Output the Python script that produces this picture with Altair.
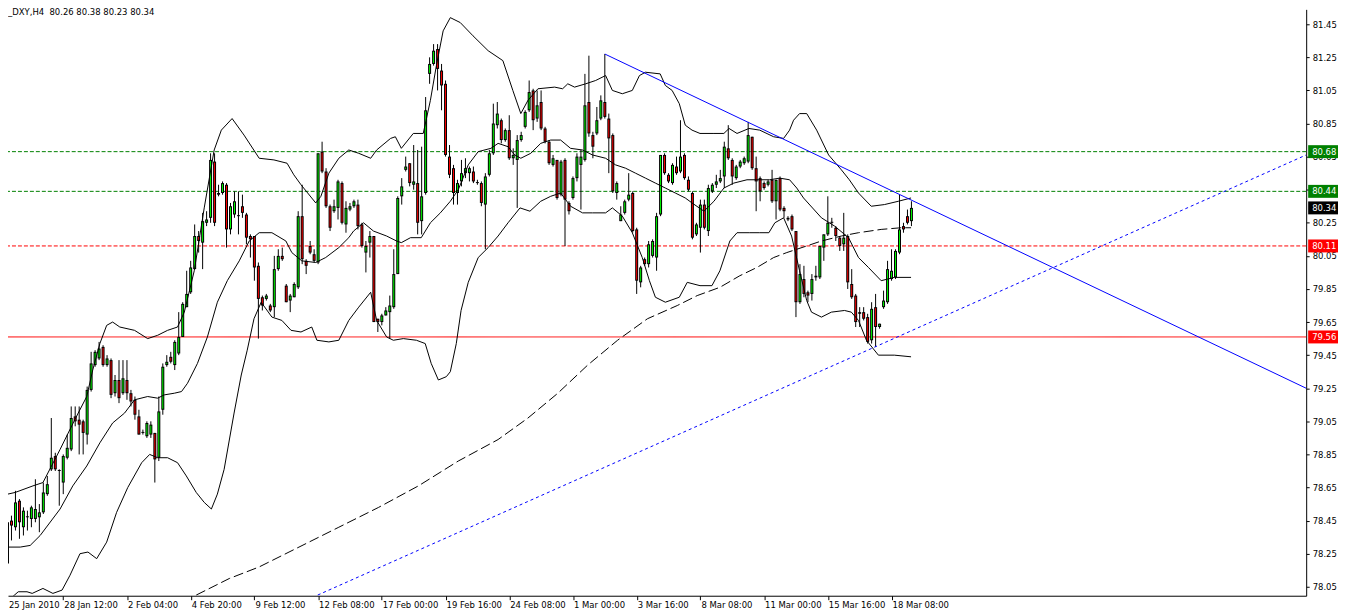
import altair as alt
import pandas as pd
import numpy as np

# ---------------- data ----------------
title_text = "_DXY,H4\u00a0 80.26 80.38 80.23 80.34"

# H4 candles, bar index 1..229 (bar 0 = 25 Jan 2010 20:00)
opens = [
    78.08, 78.19, 78.45, 78.41, 78.57, 78.41, 78.47, 78.46, 78.46, 78.47,
    78.50, 78.61, 78.76, 78.84, 78.75, 78.68, 78.83, 78.88, 79.08, 79.06,
    79.05, 78.97, 79.24, 79.39, 79.43, 79.50, 79.39, 79.42, 79.22, 79.30,
    79.22, 79.30, 79.22, 79.18, 79.08, 78.98, 78.96, 78.97, 78.98, 78.83,
    79.12, 79.39, 79.44, 79.39, 79.46, 79.56, 79.74, 79.83, 79.97, 80.17,
    80.13, 80.25, 80.28, 80.62, 80.43, 80.43, 80.48, 80.21, 80.30, 80.29,
    80.35, 80.30, 80.17, 80.17, 79.99, 79.80, 79.79, 79.75, 79.74, 79.97,
    80.05, 79.87, 79.78, 79.80, 79.86, 80.29, 80.02, 80.11, 80.06, 80.01,
    80.68, 80.56, 80.35, 80.32, 80.34, 80.49, 80.24, 80.33, 80.35, 80.36,
    80.24, 80.07, 80.13, 80.17, 79.67, 79.65, 79.69, 79.71, 79.74, 79.94,
    80.41, 80.57, 80.61, 80.48, 80.49, 80.26, 80.43, 81.15, 81.21, 81.30,
    81.17, 81.09, 80.65, 80.58, 80.43, 80.50, 80.55, 80.55, 80.56, 80.49,
    80.49, 80.36, 80.54, 80.67, 80.84, 80.87, 80.75, 80.81, 80.64, 80.63,
    80.75, 80.83, 80.93, 81.05, 80.88, 80.98, 80.82, 80.74, 80.60, 80.63,
    80.42, 80.63, 80.37, 80.40, 80.52, 80.60, 80.63, 80.98, 80.78, 80.79,
    80.88, 80.98, 80.88, 80.78, 80.43, 80.26, 80.31, 80.39, 80.43, 80.21,
    79.89, 80.03, 80.00, 80.05, 80.04, 80.30, 80.66, 80.54, 80.49, 80.59,
    80.56, 80.66, 80.51, 80.43, 80.18, 80.22, 80.36, 80.20, 80.44, 80.48,
    80.50, 80.53, 80.70, 80.63, 80.52, 80.59, 80.61, 80.62, 80.77, 80.58,
    80.52, 80.49, 80.48, 80.51, 80.38, 80.52, 80.34, 80.28, 80.29, 80.20,
    79.77, 79.91, 79.83, 79.82, 79.92, 79.92, 80.10, 80.18, 80.25, 80.22,
    80.16, 80.12, 80.17, 79.88, 79.81, 79.71, 79.71, 79.68, 79.54, 79.74,
    79.62, 79.74, 79.77, 79.91, 79.92, 80.07, 80.23, 80.29, 80.26,
]
highs = [
    78.21, 78.48, 78.48, 78.63, 78.58, 78.53, 78.51, 78.54, 78.70, 78.55,
    78.68, 78.72, 79.07, 78.86, 78.76, 78.85, 78.97, 79.14, 79.14, 79.14,
    79.06, 79.26, 79.47, 79.48, 79.53, 79.51, 79.45, 79.43, 79.33, 79.42,
    79.42, 79.42, 79.24, 79.20, 79.12, 79.00, 79.05, 79.05, 78.98, 79.20,
    79.40, 79.45, 79.47, 79.54, 79.71, 79.77, 79.96, 80.02, 80.24, 80.20,
    80.31, 80.32, 80.67, 80.67, 80.48, 80.50, 80.49, 80.37, 80.44, 80.44,
    80.42, 80.31, 80.18, 80.17, 80.01, 79.81, 79.82, 79.76, 80.05, 80.09,
    80.10, 79.88, 79.82, 79.89, 80.32, 80.48, 80.03, 80.14, 80.09, 80.67,
    80.74, 80.58, 80.36, 80.39, 80.51, 80.50, 80.38, 80.37, 80.39, 80.39,
    80.25, 80.14, 80.20, 80.17, 79.67, 79.70, 79.74, 79.81, 80.09, 80.41,
    80.52, 80.65, 80.61, 80.72, 80.69, 80.71, 81.01, 81.25, 81.33, 81.33,
    81.21, 81.11, 80.72, 80.60, 80.51, 80.63, 80.64, 80.59, 80.59, 80.51,
    80.50, 80.55, 80.69, 80.97, 80.98, 80.88, 80.82, 80.90, 80.70, 80.78,
    80.80, 80.93, 81.11, 81.06, 81.05, 81.05, 80.83, 80.75, 80.66, 80.63,
    80.63, 80.64, 80.38, 80.53, 80.67, 80.69, 81.15, 81.26, 80.80, 80.95,
    81.02, 81.27, 80.91, 80.79, 80.50, 80.35, 80.39, 80.55, 80.44, 80.22,
    79.99, 80.04, 80.14, 80.15, 80.31, 80.66, 80.67, 80.55, 80.61, 80.65,
    80.87, 80.67, 80.53, 80.44, 80.25, 80.39, 80.39, 80.48, 80.49, 80.54,
    80.57, 80.74, 80.84, 80.64, 80.60, 80.63, 80.65, 80.86, 80.77, 80.65,
    80.53, 80.50, 80.51, 80.57, 80.51, 80.53, 80.35, 80.29, 80.30, 80.20,
    80.00, 79.99, 79.84, 79.94, 79.99, 80.11, 80.18, 80.41, 80.28, 80.23,
    80.17, 80.31, 80.18, 79.97, 79.82, 79.74, 79.74, 79.70, 79.77, 79.82,
    79.64, 79.84, 80.02, 80.09, 80.09, 80.42, 80.25, 80.33, 80.38,
]
lows = [
    78.05, 78.18, 78.33, 78.39, 78.34, 78.36, 78.39, 78.41, 78.44, 78.38,
    78.49, 78.60, 78.75, 78.75, 78.54, 78.61, 78.82, 78.87, 79.02, 78.85,
    78.85, 78.91, 79.23, 79.38, 79.42, 79.38, 79.38, 79.19, 79.20, 79.16,
    79.21, 79.18, 79.14, 79.06, 78.97, 78.97, 78.95, 78.95, 78.68, 78.81,
    79.09, 79.38, 79.40, 79.36, 79.45, 79.56, 79.74, 79.82, 79.97, 80.07,
    79.97, 80.23, 80.25, 80.23, 80.41, 80.42, 80.10, 80.18, 80.28, 80.18,
    80.28, 80.12, 80.04, 79.90, 79.55, 79.72, 79.78, 79.71, 79.68, 79.96,
    80.02, 79.77, 79.71, 79.80, 79.85, 80.00, 79.94, 80.06, 80.01, 80.00,
    80.55, 80.34, 80.20, 80.31, 80.27, 80.24, 80.19, 80.32, 80.34, 80.21,
    80.10, 79.95, 80.04, 79.65, 79.59, 79.63, 79.69, 79.55, 79.73, 79.94,
    80.36, 80.56, 80.47, 80.45, 80.18, 80.18, 80.42, 81.09, 81.20, 81.05,
    80.93, 80.65, 80.52, 80.36, 80.36, 80.47, 80.52, 80.50, 80.49, 80.48,
    80.35, 80.09, 80.53, 80.66, 80.82, 80.73, 80.74, 80.63, 80.60, 80.34,
    80.74, 80.82, 80.92, 80.81, 80.86, 80.81, 80.73, 80.60, 80.59, 80.39,
    80.41, 80.11, 80.30, 80.39, 80.50, 80.33, 80.62, 80.77, 80.64, 80.78,
    80.87, 80.88, 80.55, 80.43, 80.39, 80.26, 80.30, 80.38, 80.19, 79.82,
    79.86, 79.99, 79.98, 80.04, 79.96, 80.29, 80.54, 80.49, 80.48, 80.54,
    80.55, 80.51, 80.44, 80.15, 80.17, 80.07, 80.21, 80.17, 80.43, 80.46,
    80.49, 80.46, 80.63, 80.48, 80.51, 80.58, 80.60, 80.61, 80.57, 80.32,
    80.38, 80.45, 80.47, 80.37, 80.27, 80.32, 80.28, 80.26, 80.20, 79.68,
    79.76, 79.80, 79.77, 79.78, 79.90, 79.91, 80.02, 80.17, 80.22, 80.14,
    80.08, 80.08, 79.85, 79.79, 79.62, 79.62, 79.66, 79.52, 79.52, 79.50,
    79.61, 79.73, 79.76, 79.90, 79.91, 80.06, 80.19, 80.24, 80.23,
]
closes = [
    78.18, 78.44, 78.42, 78.56, 78.44, 78.51, 78.47, 78.53, 78.52, 78.50,
    78.62, 78.67, 78.83, 78.76, 78.75, 78.84, 78.89, 79.07, 79.05, 79.03,
    78.98, 79.24, 79.40, 79.47, 79.49, 79.39, 79.43, 79.21, 79.30, 79.19,
    79.31, 79.22, 79.17, 79.09, 78.97, 78.98, 79.04, 79.03, 78.82, 79.11,
    79.38, 79.41, 79.41, 79.53, 79.56, 79.76, 79.82, 79.98, 80.17, 80.14,
    80.26, 80.27, 80.63, 80.25, 80.42, 80.49, 80.21, 80.35, 80.38, 80.29,
    80.31, 80.16, 80.15, 79.98, 79.79, 79.75, 79.81, 79.72, 79.97, 80.05,
    80.03, 79.77, 79.81, 79.88, 80.29, 80.03, 79.99, 80.07, 80.02, 80.67,
    80.56, 80.35, 80.22, 80.35, 80.50, 80.25, 80.34, 80.35, 80.38, 80.23,
    80.11, 80.11, 80.17, 79.65, 79.65, 79.69, 79.72, 79.75, 79.94, 80.40,
    80.47, 80.59, 80.49, 80.50, 80.25, 80.41, 80.93, 81.21, 81.29, 81.18,
    81.08, 80.66, 80.54, 80.43, 80.49, 80.55, 80.58, 80.58, 80.50, 80.49,
    80.37, 80.53, 80.67, 80.85, 80.91, 80.75, 80.81, 80.64, 80.66, 80.75,
    80.78, 80.92, 81.04, 80.87, 80.96, 80.82, 80.74, 80.61, 80.64, 80.40,
    80.62, 80.39, 80.32, 80.52, 80.65, 80.65, 80.96, 80.79, 80.71, 80.87,
    80.99, 80.89, 80.76, 80.44, 80.49, 80.30, 80.38, 80.42, 80.20, 79.90,
    79.98, 80.00, 80.12, 80.14, 80.29, 80.66, 80.55, 80.50, 80.60, 80.55,
    80.65, 80.52, 80.45, 80.16, 80.24, 80.36, 80.22, 80.46, 80.48, 80.50,
    80.52, 80.71, 80.64, 80.53, 80.59, 80.62, 80.64, 80.78, 80.58, 80.50,
    80.44, 80.46, 80.50, 80.38, 80.51, 80.33, 80.32, 80.27, 80.21, 79.77,
    79.94, 79.82, 79.81, 79.91, 79.93, 80.11, 80.18, 80.25, 80.25, 80.17,
    80.11, 80.16, 79.89, 79.80, 79.65, 79.70, 79.67, 79.53, 79.73, 79.62,
    79.64, 79.78, 79.97, 79.96, 80.08, 80.21, 80.21, 80.25, 80.34,
]
assert len(opens) == len(highs) == len(lows) == len(closes) == 229

# Bollinger bands (bar index, price)
upper_band = [
    (0.2, 78.60), (3.9, 78.62), (8.4, 78.66), (10.9, 78.68), (15.2, 78.88), (18.9, 79.06),
    (21.9, 79.20), (23.4, 79.36), (25.2, 79.52), (26.9, 79.63), (28.4, 79.65), (30.2, 79.62),
    (33.9, 79.60), (37.2, 79.55), (39.7, 79.57), (42.2, 79.60), (44.7, 79.62), (46.4, 79.71),
    (48.9, 79.96), (51.4, 80.34), (53.9, 80.69), (55.7, 80.81), (58.4, 80.88), (61.4, 80.78),
    (65.2, 80.64), (68.9, 80.63), (72.2, 80.61), (73.9, 80.54), (75.7, 80.48), (79.4, 80.37),
    (80.7, 80.41), (82.7, 80.55), (85.2, 80.64), (87.7, 80.69), (90.2, 80.67), (93.2, 80.64),
    (94.7, 80.69), (98.2, 80.76), (99.4, 80.77), (100.9, 80.70), (103.9, 80.79), (106.4, 80.79),
    (108.2, 80.99), (109.7, 81.20), (111.4, 81.41), (113.2, 81.49), (115.7, 81.46), (118.9, 81.38),
    (122.7, 81.29), (126.4, 81.23), (128.9, 81.05), (130.9, 80.91), (132.7, 80.99), (135.2, 81.06),
    (139.4, 81.07), (141.4, 81.06), (142.7, 81.09), (144.4, 81.07), (147.2, 81.09), (149.7, 81.11),
    (152.2, 81.14), (153.9, 81.05), (156.4, 81.03), (158.9, 81.05), (160.7, 81.14), (162.2, 81.16),
    (165.9, 81.15), (167.2, 81.08), (168.9, 81.05), (170.7, 80.97), (172.2, 80.84), (173.9, 80.81),
    (175.9, 80.79), (179.4, 80.79), (181.9, 80.79), (183.2, 80.82), (185.2, 80.79), (188.2, 80.82),
    (190.9, 80.81), (194.4, 80.77), (196.9, 80.76), (198.4, 80.81), (199.4, 80.87), (200.9, 80.91),
    (202.7, 80.91), (205.2, 80.81), (208.2, 80.66), (211.4, 80.57), (213.4, 80.51), (215.7, 80.43),
    (218.9, 80.35), (222.2, 80.36), (225.7, 80.38), (228.9, 80.40),
]
middle_band = [
    (0.2, 78.29), (5.2, 78.29), (7.7, 78.30), (10.2, 78.36), (15.2, 78.52), (18.4, 78.66),
    (21.9, 78.78), (25.2, 78.92), (28.4, 79.04), (31.4, 79.10), (33.9, 79.18), (37.2, 79.20),
    (39.7, 79.19), (41.4, 79.21), (43.9, 79.22), (45.7, 79.23), (47.2, 79.28), (49.7, 79.40),
    (52.2, 79.56), (54.7, 79.77), (57.2, 79.90), (60.2, 80.02), (62.7, 80.14), (65.2, 80.19),
    (68.4, 80.19), (71.9, 80.14), (73.4, 80.07), (75.9, 80.02), (79.4, 80.01), (81.9, 80.04),
    (85.2, 80.10), (87.7, 80.16), (88.9, 80.20), (91.4, 80.25), (93.9, 80.20), (97.2, 80.17),
    (99.7, 80.14), (100.9, 80.13), (103.2, 80.16), (105.9, 80.16), (108.2, 80.25), (110.7, 80.31),
    (113.2, 80.38), (115.2, 80.45), (117.7, 80.60), (120.2, 80.68), (123.4, 80.70), (125.2, 80.73),
    (127.7, 80.71), (129.4, 80.66), (130.9, 80.64), (133.4, 80.67), (135.9, 80.73), (138.4, 80.75),
    (140.9, 80.75), (143.4, 80.70), (146.4, 80.69), (148.9, 80.66), (152.2, 80.64), (154.7, 80.60),
    (157.2, 80.58), (159.7, 80.55), (162.2, 80.52), (164.7, 80.49), (167.2, 80.46), (169.7, 80.43),
    (172.2, 80.40), (173.9, 80.37), (176.9, 80.32), (179.4, 80.38), (181.9, 80.46), (184.4, 80.49),
    (187.7, 80.51), (190.7, 80.51), (193.4, 80.51), (195.9, 80.52), (198.4, 80.51), (200.2, 80.46),
    (201.9, 80.40), (206.4, 80.28), (209.7, 80.23), (213.2, 80.16), (215.7, 80.04), (218.2, 79.98),
    (221.4, 79.90), (224.7, 79.92), (228.9, 79.92),
]
lower_band = [
    (1.4, 77.95), (4.7, 78.02), (6.9, 78.02), (8.2, 78.01), (10.9, 78.04), (13.4, 78.01),
    (15.7, 78.03), (17.7, 78.12), (20.2, 78.25), (22.2, 78.26), (24.4, 78.22), (26.9, 78.32),
    (29.4, 78.50), (32.2, 78.65), (35.7, 78.80), (37.7, 78.85), (39.7, 78.83), (42.2, 78.83),
    (44.7, 78.80), (46.9, 78.72), (49.4, 78.62), (51.4, 78.56), (53.2, 78.52), (54.7, 78.61),
    (56.4, 78.76), (58.9, 79.10), (60.7, 79.33), (62.2, 79.48), (63.9, 79.67), (65.7, 79.77),
    (68.4, 79.68), (70.9, 79.66), (73.2, 79.60), (75.7, 79.59), (78.4, 79.62), (79.7, 79.54),
    (82.7, 79.53), (85.2, 79.54), (87.7, 79.66), (90.2, 79.74), (93.2, 79.83), (94.7, 79.66),
    (97.2, 79.56), (98.9, 79.54), (101.4, 79.55), (104.7, 79.54), (106.9, 79.52), (108.4, 79.40),
    (110.2, 79.30), (112.2, 79.32), (113.2, 79.35), (114.7, 79.52), (115.9, 79.72), (117.7, 79.89),
    (120.2, 80.04), (122.7, 80.10), (125.2, 80.17), (127.7, 80.25), (130.7, 80.34), (133.2, 80.32),
    (135.9, 80.38), (138.4, 80.41), (140.9, 80.43), (143.4, 80.35), (146.4, 80.31), (148.9, 80.31),
    (152.2, 80.31), (153.9, 80.34), (156.4, 80.29), (158.9, 80.19), (161.4, 80.04), (163.2, 79.90),
    (164.7, 79.80), (167.2, 79.77), (170.7, 79.80), (172.7, 79.89), (175.9, 79.87), (178.9, 79.87),
    (180.9, 79.96), (183.4, 80.14), (185.2, 80.19), (188.4, 80.19), (190.9, 80.19), (193.2, 80.19),
    (194.7, 80.25), (196.9, 80.28), (198.9, 80.17), (200.9, 79.96), (202.7, 79.78), (203.9, 79.71),
    (206.4, 79.68), (208.9, 79.71), (212.2, 79.72), (213.9, 79.71), (215.7, 79.66), (217.7, 79.54),
    (220.7, 79.45), (224.7, 79.45), (228.9, 79.44),
]
# long moving average (dashed)
ma_long = [
    (49.4, 78.00), (57.7, 78.10), (65.2, 78.17), (75.2, 78.29), (85.2, 78.41), (95.2, 78.53),
    (105.2, 78.66), (115.2, 78.81), (125.2, 78.94), (132.7, 79.07), (140.2, 79.22), (147.7, 79.39),
    (155.2, 79.54), (162.7, 79.67), (170.2, 79.75), (175.2, 79.81), (180.9, 79.86), (185.9, 79.93),
    (190.2, 79.98), (194.4, 80.04), (197.7, 80.07), (202.7, 80.11), (206.4, 80.14), (211.4, 80.17),
    (215.7, 80.19), (221.4, 80.21), (226.4, 80.22), (228.9, 80.22),
]

# trend lines (bar index, price)
resistance_line = [(152.0, 81.27), (328.125, 79.25)]
support_line = [(79.9, 78.00), (328.125, 80.66)]

# horizontal levels
level_prices = [80.68, 80.44, 80.11, 79.56]
level_colors = ["#008000", "#008000", "#FF0000", "#FF0000"]
level_dashed = [True, True, True, False]

# price tags on the right axis
tag_prices = [80.68, 80.44, 80.34, 80.11, 79.56]
tag_colors = ["#008000", "#008000", "#000000", "#FF0000", "#FF0000"]

# axes
price_ticks = [81.45, 81.25, 81.05, 80.85, 80.65, 80.45, 80.25, 80.05, 79.85,
               79.65, 79.45, 79.25, 79.05, 78.85, 78.65, 78.45, 78.25, 78.05]
date_ticks = [0, 16, 32, 48, 64, 80, 96, 112, 128, 144, 160, 176, 192, 208, 224]
date_labels = ["25 Jan 2010", "28 Jan 12:00", "2 Feb 04:00", "4 Feb 20:00", "9 Feb 12:00",
               "12 Feb 08:00", "17 Feb 00:00", "19 Feb 16:00", "24 Feb 08:00", "1 Mar 00:00",
               "3 Mar 16:00", "8 Mar 08:00", "11 Mar 00:00", "15 Mar 16:00", "18 Mar 08:00"]

# ---------------- chart ----------------
FONT = "DejaVu Sans"
FS = 8.5
W, H = 1304, 589
X_DOM = [2.125, 328.125]
Y_DOM = [77.996, 81.540]
PX = (Y_DOM[1] - Y_DOM[0]) / H  # price per pixel

xs = alt.Scale(domain=X_DOM, nice=False, zero=False)
ys = alt.Scale(domain=Y_DOM, nice=False, zero=False)

x_axis = alt.Axis(orient="bottom", values=date_ticks[1:], labels=False, ticks=True,
                  tickSize=4, tickColor="black", tickWidth=1, domainColor="black",
                  domainWidth=1, grid=False, title=None)
y_axis = alt.Axis(orient="right", values=price_ticks, format=".2f", tickSize=3,
                  tickColor="black", tickWidth=1, domainColor="black", domainWidth=1,
                  labelColor="black", labelFont=FONT, labelFontSize=FS, labelPadding=3,
                  labelOverlap=False, labelFlush=False, grid=False, title=None)


def X(field):
    return alt.X(field, scale=xs, axis=x_axis)


def Y(field):
    return alt.Y(field, scale=ys, axis=y_axis)


bars = list(range(1, len(opens) + 1))
cdf = pd.DataFrame({"bar": bars, "open": opens, "high": highs, "low": lows, "close": closes})
cdf["top"] = cdf[["open", "close"]].max(axis=1)
cdf["bot"] = cdf[["open", "close"]].min(axis=1)
cdf["top"] = np.maximum(cdf["top"], cdf["bot"] + PX)
cdf["dir"] = np.where(cdf["close"] >= cdf["open"], "up", "down")
inner = cdf[(cdf["top"] - cdf["bot"]) > 2.5 * PX].copy()
inner["itop"] = inner["top"] - PX
inner["ibot"] = inner["bot"] + PX

wicks = alt.Chart(cdf).mark_rule(color="black", strokeWidth=1).encode(
    x=X("bar:Q"), y=Y("low:Q"), y2="high:Q",
)
bodies = alt.Chart(cdf).mark_rule(color="black", strokeWidth=3, strokeCap="butt").encode(
    x=X("bar:Q"), y=Y("bot:Q"), y2="top:Q",
)
fills = alt.Chart(inner).mark_rule(strokeWidth=1, strokeCap="butt").encode(
    x=X("bar:Q"), y=Y("ibot:Q"), y2="itop:Q",
    color=alt.Color("dir:N", scale=alt.Scale(domain=["up", "down"], range=["#00FF00", "#FF0000"]),
                    legend=None),
)

# horizontal levels
lv = pd.DataFrame({"price": level_prices, "col": level_colors,
                   "style": ["dash" if d else "solid" for d in level_dashed]})
levels = alt.Chart(lv).mark_rule(strokeWidth=1).encode(
    y=Y("price:Q"),
    color=alt.Color("col:N", scale=None),
    strokeDash=alt.StrokeDash("style:N", scale=alt.Scale(domain=["dash", "solid"],
                                                          range=[[4, 2], [1, 0]]), legend=None),
)


def line_df(points, name):
    return pd.DataFrame({"bar": [p[0] for p in points], "price": [p[1] for p in points],
                         "series": name})


bands_df = pd.concat([line_df(upper_band, "upper"), line_df(middle_band, "middle"),
                      line_df(lower_band, "lower")])
bands = alt.Chart(bands_df).mark_line(color="black", strokeWidth=1, clip=True).encode(
    x=X("bar:Q"), y=Y("price:Q"), detail="series:N",
)
ma = alt.Chart(line_df(ma_long, "ma")).mark_line(color="black", strokeWidth=1,
                                                 strokeDash=[10, 4], clip=True).encode(
    x=X("bar:Q"), y=Y("price:Q"),
)
res = alt.Chart(line_df(resistance_line, "res")).mark_line(color="#0000FF", strokeWidth=1,
                                                          clip=True).encode(
    x=X("bar:Q"), y=Y("price:Q"),
)
sup = alt.Chart(line_df(support_line, "sup")).mark_line(color="#0000FF", strokeWidth=1,
                                                       strokeDash=[3, 3], clip=True).encode(
    x=X("bar:Q"), y=Y("price:Q"),
)

# price tags
tg = pd.DataFrame({"price": tag_prices, "col": tag_colors,
                   "txt": [f"{p:.2f}" for p in tag_prices]})
tg["y1"] = tg["price"] + 6.5 * PX
tg["y2"] = tg["price"] - 6.5 * PX
tag_boxes = alt.Chart(tg).mark_rect().encode(
    x=alt.value(W + 2), x2=alt.value(W + 32),
    y=Y("y1:Q"), y2="y2:Q",
    color=alt.Color("col:N", scale=None),
)
tag_text = alt.Chart(tg).mark_text(align="left", baseline="middle", color="white",
                                   font=FONT, fontSize=FS).encode(
    x=alt.value(W + 6), y=Y("price:Q"), text="txt:N",
)

# date labels under the axis
dl = pd.DataFrame({"bar": [max(t, X_DOM[0]) for t in date_ticks], "label": date_labels})
date_text = alt.Chart(dl).mark_text(align="left", baseline="alphabetic", dx=1, color="black",
                                    font=FONT, fontSize=FS).encode(
    x=X("bar:Q"), y=alt.value(H + 12), text="label:N",
)

title = alt.Chart(pd.DataFrame({"t": [title_text]})).mark_text(
    align="left", baseline="alphabetic", color="black", font=FONT, fontSize=FS
).encode(x=alt.value(0), y=alt.value(6), text="t:N")

chart = alt.layer(
    levels, wicks, bodies, fills, bands, ma, res, sup, tag_boxes, tag_text, date_text, title
).properties(
    width=W, height=H,
    padding={"left": 0, "top": 0, "right": 39, "bottom": 17},
    autosize=alt.AutoSizeParams(type="none"),
    background="white",
).configure_view(stroke=None)

chart.save("out.html", embed_options={"renderer": "svg", "actions": False})
